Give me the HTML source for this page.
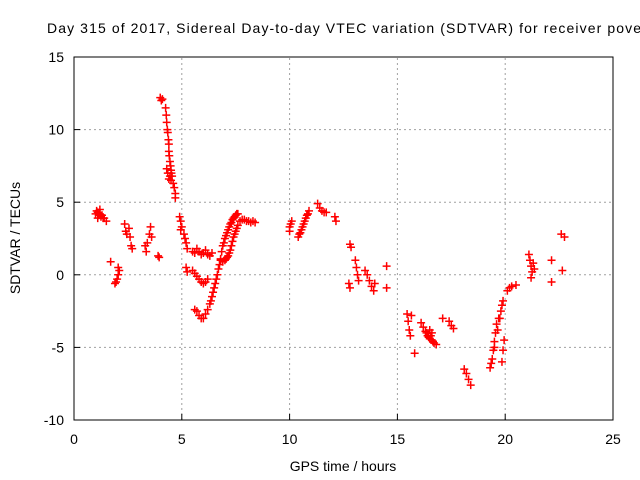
<!DOCTYPE html>
<html><head><meta charset="utf-8"><style>
body{margin:0;background:#fff}
svg{display:block;font-family:"Liberation Sans",sans-serif}
</style></head><body>
<svg id="chart" width="640" height="480" viewBox="0 0 640 480" xmlns="http://www.w3.org/2000/svg">
<rect width="640" height="480" fill="#fff"/>
<text x="47" y="33" font-size="14" textLength="594" lengthAdjust="spacing">Day 315 of 2017, Sidereal Day-to-day VTEC variation (SDTVAR) for receiver pove</text>
<g id="grid"></g>
<g id="ticks"></g>
<g id="marks"></g>
<rect x="74" y="57" width="539" height="363" fill="none" stroke="#000" stroke-width="1"/>
<text x="343" y="471" font-size="14" text-anchor="middle">GPS time / hours</text>
<text transform="translate(20,238) rotate(-90)" font-size="14" text-anchor="middle">SDTVAR / TECUs</text>
</svg>
<script>
const xTicks=[0,5,10,15,20,25];
const yTicks=[-10,-5,0,5,10,15];
const gpsHours=[1.0,1.05,1.1,1.15,1.2,1.25,1.3,1.35,1.4,1.5,1.1,1.2,
1.7,1.9,1.95,2.0,2.05,2.1,2.05,
2.35,2.4,2.45,2.55,2.6,2.65,2.7,
3.3,3.35,3.4,3.5,3.55,3.6,3.9,3.95,
4.0,4.05,4.1,
4.25,4.3,4.35,4.4,4.4,4.45,4.3,4.35,4.5,4.55,4.5,4.6,4.65,4.7,4.7,4.45,4.4,4.28,4.33,4.38,4.42,4.48,4.52,
4.9,4.95,5.0,4.95,5.1,5.15,5.2,5.25,5.2,5.25,
5.5,5.6,5.7,5.8,5.9,6.0,6.1,6.2,6.3,6.4,
5.5,5.6,5.7,5.8,5.9,6.0,6.1,6.2,
5.6,5.7,5.8,5.9,6.0,6.1,6.2,6.3,6.4,6.5,6.6,6.7,6.8,6.85,6.9,7.0,7.1,7.2,7.3,7.4,7.5,7.6,
6.35,6.45,6.55,6.65,6.75,6.95,7.05,7.15,7.25,7.35,7.45,7.55,
6.8,6.9,7.0,7.1,7.2,7.3,7.4,7.5,7.6,7.7,7.8,7.9,8.0,8.1,8.2,8.3,8.4,
7.05,7.15,7.25,7.35,7.45,7.55,
10.0,10.05,10.1,10.0,
10.4,10.5,10.6,10.7,10.8,10.9,10.45,10.55,10.65,10.75,10.85,
11.3,11.4,11.5,11.6,11.7,12.1,12.15,
12.8,12.85,12.75,12.8,13.05,13.1,13.15,13.2,
13.5,13.6,13.7,13.8,13.9,13.95,14.5,14.5,
15.45,15.5,15.55,15.6,15.65,15.8,
16.1,16.2,16.3,16.4,16.5,16.6,16.7,16.8,16.5,16.6,16.35,16.45,16.55,16.65,
17.1,17.4,17.5,17.6,
18.1,18.2,18.3,18.4,
19.3,19.4,19.45,19.5,19.55,19.6,19.7,19.65,19.75,19.8,19.85,19.9,19.95,19.9,19.85,19.35,19.5,
20.1,20.2,20.3,20.5,
21.1,21.15,21.2,21.25,21.2,21.3,21.35,
22.15,22.15,22.6,22.75,22.65];
const sdtvar=[4.2,4.4,4.3,4.1,4.2,4.0,4.1,3.9,3.9,3.7,3.9,4.5,
0.9,-0.6,-0.5,-0.3,0.0,0.3,0.5,
3.5,3.0,2.8,3.2,2.6,2.0,1.8,
2.0,1.6,2.2,2.8,3.3,2.6,1.3,1.2,
12.2,12.0,12.1,
11.5,10.5,9.8,9.0,8.5,7.8,7.3,7.0,7.2,6.8,6.5,6.3,6.0,5.6,5.3,6.8,6.6,11.0,10.0,9.3,8.2,7.5,7.0,
4.0,3.7,3.3,3.1,2.8,2.5,2.2,1.8,0.5,0.2,
1.6,1.5,1.8,1.6,1.4,1.5,1.7,1.4,1.3,1.5,
0.3,0.1,-0.1,-0.3,-0.5,-0.6,-0.5,-0.3,
-2.4,-2.5,-2.8,-3.0,-3.0,-2.7,-2.4,-2.0,-1.5,-0.9,-0.3,0.4,1.1,1.6,2.0,2.5,2.9,3.3,3.6,3.9,4.1,4.2,
-1.8,-1.2,-0.6,0.0,0.7,2.2,2.7,3.1,3.5,3.8,4.0,4.2,
1.0,0.9,1.0,1.2,1.5,2.0,2.6,3.0,3.4,3.7,3.8,3.8,3.7,3.7,3.6,3.7,3.6,
1.1,1.3,1.7,2.3,2.8,3.2,
3.3,3.5,3.7,3.0,
2.6,2.9,3.3,3.7,4.1,4.4,2.8,3.1,3.5,3.9,4.2,
4.9,4.6,4.4,4.3,4.3,4.0,3.7,
2.1,1.9,-0.6,-0.9,1.0,0.5,0.0,-0.4,
0.3,0.0,-0.4,-0.8,-1.1,-0.6,0.6,-0.9,
-2.7,-3.2,-3.8,-4.2,-2.8,-5.4,
-3.3,-3.6,-3.9,-4.2,-4.4,-4.5,-4.7,-4.8,-3.8,-4.0,-4.0,-4.3,-4.2,-4.6,
-3.0,-3.2,-3.5,-3.7,
-6.5,-6.8,-7.2,-7.6,
-6.4,-5.8,-5.2,-4.6,-4.0,-3.4,-3.0,-3.8,-3.0,-2.5,-2.1,-1.8,-4.5,-5.2,-6.0,-6.1,-5.0,
-1.1,-0.9,-0.8,-0.7,
1.4,1.0,0.6,0.2,-0.2,0.8,0.4,
1.0,-0.5,2.8,2.6,0.3];
const X0=74,X1=613,Y0=420,Y1=57;
function sx(v){return X0+(v-0)/(25-0)*(X1-X0);}
function sy(v){return Y0-(v+10)/(25)*(Y0-Y1);}
const NS='http://www.w3.org/2000/svg';
const grid=document.getElementById('grid'),ticks=document.getElementById('ticks'),marks=document.getElementById('marks');
function mk(tag,attrs,parent){const e=document.createElementNS(NS,tag);for(const k in attrs)e.setAttribute(k,attrs[k]);parent.appendChild(e);return e;}
xTicks.forEach(t=>{const x=sx(t);
 if(t>0&&t<25){const g=mk('line',{x1:x,y1:Y0,x2:x,y2:Y1,stroke:'#a0a0a0','stroke-dasharray':'2,3'},grid);
 
 }
 const l=mk('line',{x1:x,y1:Y0,x2:x,y2:Y0-6,stroke:'#000'},ticks);
 
 
 const tx=mk('text',{x:x,y:Y0+24,'font-size':'14','text-anchor':'middle'},ticks);tx.textContent=t;
 
 
});
yTicks.forEach(t=>{const y=sy(t);
 if(t>-10&&t<15){const g=mk('line',{x1:X0,y1:y,x2:X1,y2:y,stroke:'#a0a0a0','stroke-dasharray':'2,3'},grid);
 
 }
 const l=mk('line',{x1:X0,y1:y,x2:X0+6,y2:y,stroke:'#000'},ticks);
 
 
 const tx=mk('text',{x:X0-10,y:y+5,'font-size':'14','text-anchor':'end'},ticks);tx.textContent=t;
 
 
});
for(let i=0;i<gpsHours.length;i++){const x=sx(gpsHours[i]),y=sy(sdtvar[i]);
 const p=mk('path',{d:`M${x-4},${y}H${x+4}M${x},${y-4}V${y+4}`,stroke:'#ff0000','stroke-width':'1.5',fill:'none'},marks);
 
 
}
</script>
</body></html>
